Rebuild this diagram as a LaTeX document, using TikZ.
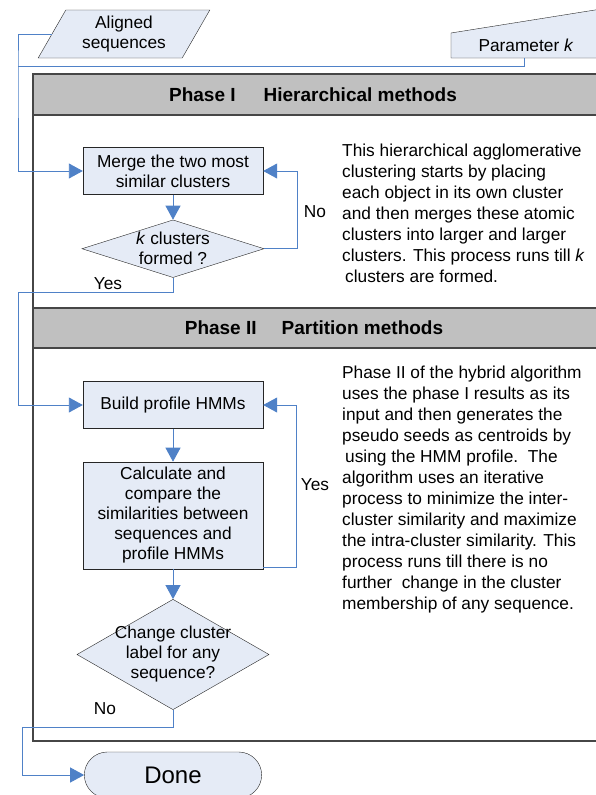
\documentclass[tikz,border=0pt]{standalone}
\usepackage{fontspec}
\setmainfont{Liberation Sans}
\usetikzlibrary{shapes.geometric,shapes.misc,arrows.meta,positioning}
\definecolor{boxfill}{RGB}{229,235,246}
\definecolor{connblue}{RGB}{79,129,199}
\definecolor{framegray}{RGB}{70,70,70}
\definecolor{headgray}{RGB}{192,192,192}
\tikzstyle{block} = [rectangle, draw=black!85, fill=boxfill, minimum width=180pt, align=center, inner sep=2pt, font=\fontsize{17.3}{20}\selectfont]
\tikzstyle{decision} = [diamond, draw=black!85, fill=boxfill, align=center, inner sep=0pt, font=\fontsize{17.3}{20}\selectfont]
\tikzstyle{io} = [trapezium, trapezium left angle=63.4, trapezium right angle=116.6, trapezium stretches=true, draw=black!85, fill=boxfill, align=center, font=\fontsize{17.3}{20}\selectfont]
\tikzstyle{term} = [rounded rectangle, draw=black!85, fill=boxfill, minimum width=184pt, minimum height=46pt, font=\fontsize{24}{28}\selectfont]
\tikzstyle{line} = [draw=connblue, line width=0.9pt, -{Triangle[length=14pt,width=15pt]}]
\tikzstyle{bus} = [draw=connblue, line width=0.9pt]
\tikzstyle{header} = [font=\bfseries\fontsize{19}{22}\selectfont]
\tikzstyle{note} = [anchor=north west, align=left, inner sep=0pt, font=\fontsize{17.3}{21}\selectfont]
\tikzstyle{tag} = [inner sep=0pt, font=\fontsize{17.3}{20}\selectfont]

\begin{document}
\begin{tikzpicture}[x=1pt, y=-1pt]
    \useasboundingbox (0,0) rectangle (596,795);
    \clip (0,0) rectangle (596,795);
    % frame with the two phase bands
    \draw [framegray, line width=1.2pt] (33,74) rectangle (610,741);
    \draw [framegray, line width=1.2pt, fill=headgray] (33,74) rectangle (610,115);
    \draw [framegray, line width=1.2pt, fill=headgray] (33,308) rectangle (610,348);
    \node [header] (phase1) at (313,95) {Phase I\hspace{28pt}Hierarchical methods};
    \node [header] (phase2) at (314,328) {Phase II\hspace{25pt}Partition methods};
    % inputs
    \node [io, minimum width=172pt, minimum height=48pt] (aligned) at (124,34) {Aligned\\sequences};
    \draw [black!85, fill=boxfill] (451,58) -- (451,33) -- (620,6) -- (620,58) -- cycle;
    \node [tag] (param) at (526,45) {Parameter \textit{k}};
    \coordinate (paramb) at (524,58);
    \coordinate (busA) at (18,66);
    % phase I
    \node [block, minimum height=47pt] (merge) at (173,171) {Merge the two most\\similar clusters};
    \node [decision, aspect=3.16, inner sep=0.6pt, below=25pt of merge] (kform) {\textit{k} clusters\\formed ?};
    \coordinate (busB) at (18,292);
    % phase II
    \node [block, minimum height=47pt] (build) at (173,405) {Build profile HMMs};
    \node [block, minimum height=107pt, below=33pt of build] (calc) {Calculate and\\compare the\\similarities between\\sequences and\\profile HMMs};
    \node [decision, aspect=1.74, inner sep=-4pt, below=30pt of calc] (chg) {Change cluster\\label for any\\sequence?};
    \coordinate (busC) at (22,727);
    \node [term] (done) at (173,775) {Done};
    % notes
    \node [note] (note1) at (342,144) {This hierarchical agglomerative\\clustering starts by placing\\each object in its own cluster\\and then merges these atomic\\clusters into larger and larger\\clusters. This process runs till \textit{k}\\\hspace{3pt}clusters are formed.};
    \node [note] (note2) at (342,366) {Phase II of the hybrid algorithm\\uses the phase I results as its\\input and then generates the\\pseudo seeds as centroids by\\\hspace{3pt}using the HMM profile.\ \ The\\algorithm uses an iterative\\process to minimize the inter-\\cluster similarity and maximize\\the intra-cluster similarity. This\\process runs till there is no\\further\ \ change in the cluster\\membership of any sequence.};
    % connectors
    \path [line] (aligned.left side) -| (busA) |- (merge.west);
    \path [bus] (paramb) |- (busA);
    \path [line] (merge) -- (kform);
    \path [line] (kform.east) -- ++(33pt,0) |- (merge.east);
    \node [tag] (no1) at (315,212) {No};
    \path [line] (kform.south) |- (busB) |- (build.west);
    \node [tag] (yes1) at (108,284) {Yes};
    \path [line] (build) -- (calc);
    \path [line] ([yshift=2pt]calc.south east) -- ++(33pt,0) |- (build.east);
    \node [tag] (yes2) at (315,485) {Yes};
    \path [line] (calc) -- (chg);
    \path [line] (chg.south) |- (busC) |- (done.west);
    \node [tag] (no2) at (105,709) {No};
\end{tikzpicture}
\end{document}
